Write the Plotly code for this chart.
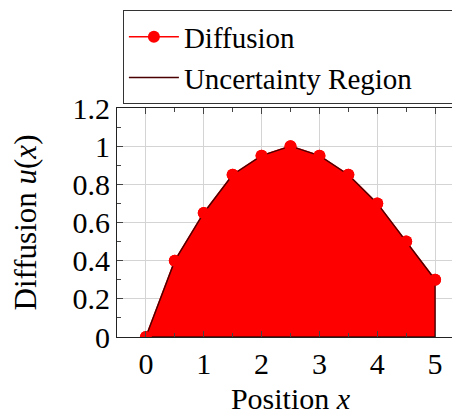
import plotly.graph_objects as go

positions = [0, 0.5, 1, 1.5, 2, 2.5, 3, 3.5, 4, 4.5, 5]
diffusion = [0, 0.4, 0.65, 0.85, 0.95, 1.0, 0.95, 0.85, 0.7, 0.5, 0.3]
x_ticks = [0, 1, 2, 3, 4, 5]
y_ticks = [0, 0.2, 0.4, 0.6, 0.8, 1.0, 1.2]
y_tick_labels = ["0", "0.2", "0.4", "0.6", "0.8", "1", "1.2"]

RED = "#ff0000"
DARK = "#4a0000"
FONT = "Liberation Serif"

# closed region: along the curve, down to zero at the last position, back to the origin
region_x = positions + [positions[-1], positions[0]]
region_y = diffusion + [0, diffusion[0]]

fig = go.Figure()
fig.add_trace(go.Scatter(x=region_x, y=region_y, mode="lines", fill="toself",
                         fillcolor=RED, line=dict(color=RED, width=0),
                         showlegend=False, hoverinfo="skip"))
fig.add_trace(go.Scatter(x=positions, y=diffusion, mode="lines+markers", name="Diffusion",
                         line=dict(color=RED, width=1.6),
                         marker=dict(color=RED, size=12), legendrank=1))
fig.add_trace(go.Scatter(x=region_x, y=region_y, mode="lines",
                         line=dict(color=DARK, width=1.4),
                         showlegend=False, hoverinfo="skip"))
fig.add_trace(go.Scatter(x=[None], y=[None], mode="lines",
                         name="Uncertainty Region" + "&nbsp;" * 5,
                         line=dict(color=DARK, width=1.4), legendrank=2))
fig.add_trace(go.Scatter(x=positions, y=diffusion, mode="markers",
                         marker=dict(color=RED, size=12), showlegend=False, hoverinfo="skip"))

axis_common = dict(showline=True, linecolor="#222", linewidth=1, mirror="allticks",
                   showgrid=True, gridcolor="#d4d4d4", gridwidth=1,
                   ticks="inside", ticklen=6, tickcolor="#444", zeroline=False,
                   tickfont=dict(family=FONT, size=30, color="black"))

fig.update_layout(
    width=460, height=417,
    margin=dict(l=109, r=4, t=99, b=88),
    paper_bgcolor="white", plot_bgcolor="white",
    font=dict(family=FONT, size=30, color="black"),
    xaxis=dict(range=[-0.5, 5.5], tickvals=x_ticks,
               title=dict(text="Position <i>x</i>", font=dict(family=FONT, size=30), standoff=8),
               minor=dict(dtick=0.5, tick0=0, ticks="inside", ticklen=4, tickcolor="#444", showgrid=False),
               **axis_common),
    yaxis=dict(range=[0, 1.2], tickvals=y_ticks, ticktext=y_tick_labels,
               title=dict(text="Diffusion <i>u</i>(<i>x</i>)", font=dict(family=FONT, size=31), standoff=26),
               minor=dict(dtick=0.1, tick0=0, ticks="inside", ticklen=4, tickcolor="#444", showgrid=False),
               **axis_common),
    legend=dict(x=0.017, y=1.42, xanchor="left", yanchor="top",
                bordercolor="#333", borderwidth=1, bgcolor="white",
                font=dict(family=FONT, size=29), tracegroupgap=0, itemwidth=50),
)

fig.write_html("out.html")
